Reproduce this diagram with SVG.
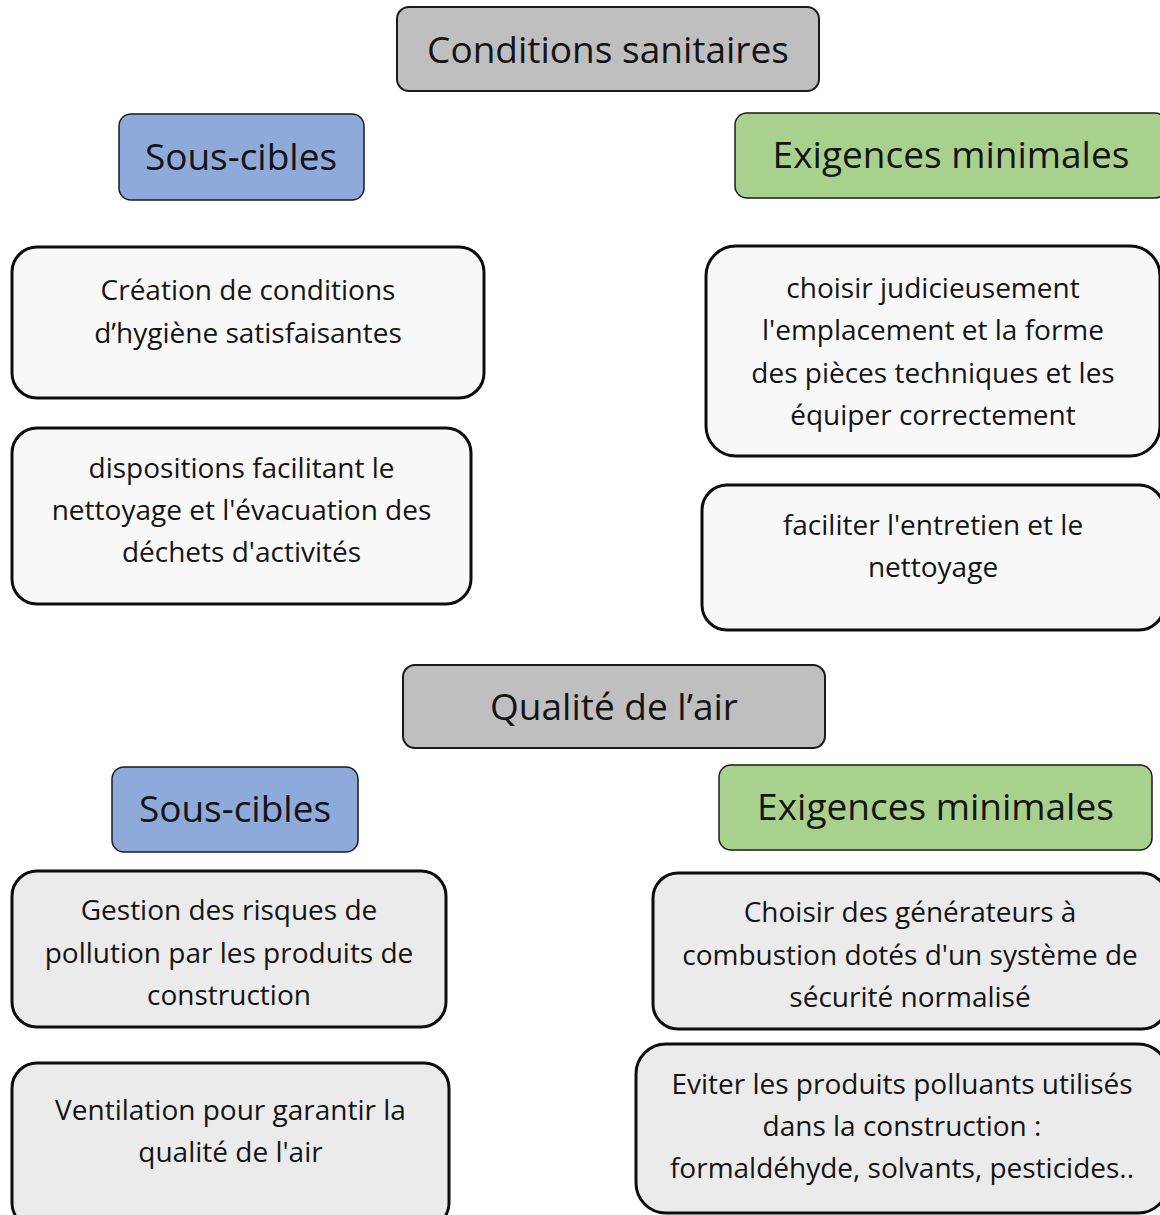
<svg xmlns="http://www.w3.org/2000/svg" width="1160" height="1215" viewBox="0 0 1160 1215">
  <style>
    .title { fill: #bfbfbf; stroke: #1a1a1a; stroke-width: 2; }
    .sub { fill: #8eaadb; stroke: #1a1a1a; stroke-width: 1.5; }
    .req { fill: #a9d18e; stroke: #1a1a1a; stroke-width: 1.5; }
    .itemA { fill: #f8f8f8; stroke: #0d0d0d; stroke-width: 3; }
    .itemB { fill: #ebebeb; stroke: #0d0d0d; stroke-width: 3; }
    text { font-family: "Open Sans", "Noto Sans", "Liberation Sans", sans-serif; fill: #141414; text-anchor: middle; }
    .big { font-size: 37px; }
    .body { font-size: 28px; }
  </style>
  <rect width="1160" height="1215" fill="#ffffff"/>

  <!-- Section 1 : Conditions sanitaires -->
  <g id="titre-conditions">
    <rect class="title" x="397" y="7" width="422" height="84" rx="12"/>
    <text class="big" x="608" y="63">Conditions sanitaires</text>
  </g>
  <g id="sous-cibles-1">
    <rect class="sub" x="119" y="114" width="245" height="86" rx="12"/>
    <text class="big" x="241" y="170">Sous-cibles</text>
  </g>
  <g id="exigences-1">
    <rect class="req" x="735" y="113" width="432" height="85" rx="12"/>
    <text class="big" x="951" y="168">Exigences minimales</text>
  </g>
  <g id="hygiene">
    <rect class="itemA" x="12" y="247" width="472" height="151" rx="25"/>
    <text class="body" x="248" y="300">Création de conditions</text>
    <text class="body" x="248" y="343">d’hygiène satisfaisantes</text>
  </g>
  <g id="nettoyage-dechets">
    <rect class="itemA" x="12" y="428" width="459" height="176" rx="25"/>
    <text class="body" x="241.5" y="478">dispositions facilitant le</text>
    <text class="body" x="241.5" y="520">nettoyage et l'évacuation des</text>
    <text class="body" x="241.5" y="562">déchets d'activités</text>
  </g>
  <g id="pieces-techniques">
    <rect class="itemA" x="706" y="246" width="454" height="210" rx="30"/>
    <text class="body" x="933" y="298">choisir judicieusement</text>
    <text class="body" x="933" y="340">l'emplacement et la forme</text>
    <text class="body" x="933" y="383">des pièces techniques et les</text>
    <text class="body" x="933" y="425">équiper correctement</text>
  </g>
  <g id="entretien">
    <rect class="itemA" x="702" y="485" width="462" height="145" rx="25"/>
    <text class="body" x="933" y="535">faciliter l'entretien et le</text>
    <text class="body" x="933" y="577">nettoyage</text>
  </g>

  <!-- Section 2 : Qualité de l'air -->
  <g id="titre-air">
    <rect class="title" x="403" y="665" width="422" height="83" rx="12"/>
    <text class="big" x="614" y="720">Qualité de l’air</text>
  </g>
  <g id="sous-cibles-2">
    <rect class="sub" x="112" y="767" width="246" height="85" rx="12"/>
    <text class="big" x="235" y="822">Sous-cibles</text>
  </g>
  <g id="exigences-2">
    <rect class="req" x="719" y="765" width="433" height="85" rx="12"/>
    <text class="big" x="935.5" y="820">Exigences minimales</text>
  </g>
  <g id="pollution-produits">
    <rect class="itemB" x="12" y="871" width="434" height="156" rx="25"/>
    <text class="body" x="229" y="920">Gestion des risques de</text>
    <text class="body" x="229" y="963">pollution par les produits de</text>
    <text class="body" x="229" y="1005">construction</text>
  </g>
  <g id="ventilation">
    <rect class="itemB" x="12" y="1063" width="437" height="165" rx="25"/>
    <text class="body" x="230.5" y="1120">Ventilation pour garantir la</text>
    <text class="body" x="230.5" y="1162">qualité de l'air</text>
  </g>
  <g id="generateurs">
    <rect class="itemB" x="653" y="873" width="514" height="156" rx="25"/>
    <text class="body" x="910" y="922">Choisir des générateurs à</text>
    <text class="body" x="910" y="965">combustion dotés d'un système de</text>
    <text class="body" x="910" y="1007">sécurité normalisé</text>
  </g>
  <g id="produits-polluants">
    <rect class="itemB" x="636" y="1044" width="532" height="169" rx="30"/>
    <text class="body" x="902" y="1094">Eviter les produits polluants utilisés</text>
    <text class="body" x="902" y="1136">dans la construction :</text>
    <text class="body" x="902" y="1178">formaldéhyde, solvants, pesticides..</text>
  </g>

  <g id="connectors"/>
</svg>
